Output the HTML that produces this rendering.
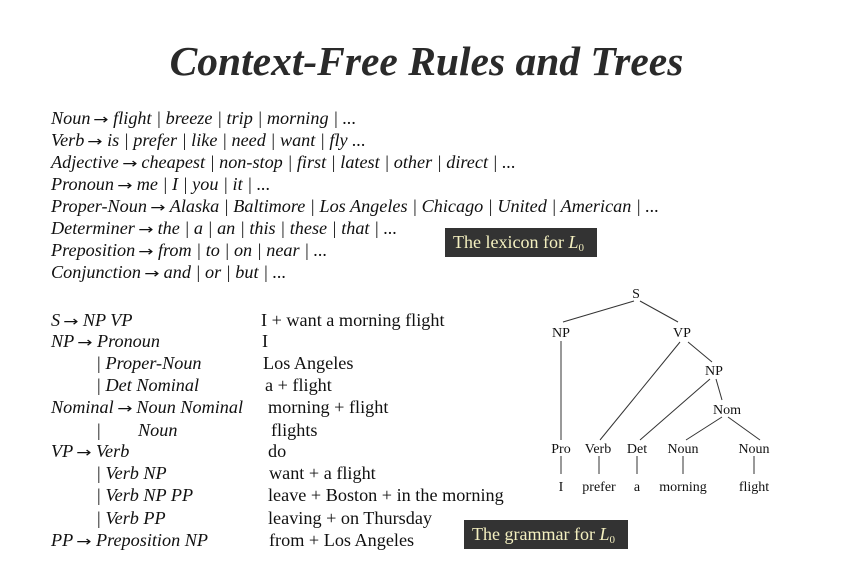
<!DOCTYPE html>
<html><head><meta charset="utf-8"><style>
body{margin:0;width:853px;height:578px;background:#fff;position:relative;overflow:hidden;font-family:"Liberation Serif",serif;color:#111}
.t{position:absolute;white-space:nowrap;font-size:18.2px;line-height:22px}
.i{font-style:italic}
.a{font-style:normal;font-family:"DejaVu Sans",sans-serif;font-size:14px;display:inline-block;transform:scaleX(1.3);margin:0 6px 0 5px}
.title{position:absolute;left:0;width:853px;top:37px;text-align:center;font-size:41.5px;font-weight:bold;font-style:italic;color:#2a2a2a}
.box{position:absolute;background:#333;color:#f4f0c0;font-size:18px;height:29px;line-height:29px;padding:0 8px;white-space:nowrap;overflow:hidden}
.box sub{font-size:11px;position:relative;top:3px;vertical-align:baseline}
svg{position:absolute;left:0;top:0}
svg text{font-family:"Liberation Serif",serif;font-size:14px;fill:#111;text-anchor:middle}
</style></head><body>
<div class="title">Context-Free Rules and Trees</div>
<div class="t i" style="left:51px;top:107px">Noun<span class="a">→</span>flight | breeze | trip | morning | ...</div>
<div class="t i" style="left:51px;top:129px">Verb<span class="a">→</span>is | prefer | like | need | want | fly ...</div>
<div class="t i" style="left:51px;top:151px">Adjective<span class="a">→</span>cheapest | non-stop | first | latest | other | direct | ...</div>
<div class="t i" style="left:51px;top:173px">Pronoun<span class="a">→</span>me | I | you | it | ...</div>
<div class="t i" style="left:51px;top:195px">Proper-Noun<span class="a">→</span>Alaska | Baltimore | Los Angeles | Chicago | United | American | ...</div>
<div class="t i" style="left:51px;top:217px">Determiner<span class="a">→</span>the | a | an | this | these | that | ...</div>
<div class="t i" style="left:51px;top:239px">Preposition<span class="a">→</span>from | to | on | near | ...</div>
<div class="t i" style="left:51px;top:261px">Conjunction<span class="a">→</span>and | or | but | ...</div>
<div class="box" style="left:445px;top:228px;width:136px">The lexicon for <i>L</i><sub>0</sub></div>

<div class="t i" style="left:51px;top:309px">S<span class="a">→</span>NP VP</div>
<div class="t i" style="left:51px;top:330px">NP<span class="a">→</span>Pronoun</div>
<div class="t i" style="left:96px;top:352px">| Proper-Noun</div>
<div class="t i" style="left:96px;top:374px">| Det Nominal</div>
<div class="t i" style="left:51px;top:396px">Nominal<span class="a">→</span>Noun Nominal</div>
<div class="t i" style="left:96px;top:419px">|</div>
<div class="t i" style="left:138px;top:419px">Noun</div>
<div class="t i" style="left:51px;top:440px">VP<span class="a">→</span>Verb</div>
<div class="t i" style="left:96px;top:462px">| Verb NP</div>
<div class="t i" style="left:96px;top:484px">| Verb NP PP</div>
<div class="t i" style="left:96px;top:507px">| Verb PP</div>
<div class="t i" style="left:51px;top:529px">PP<span class="a">→</span>Preposition NP</div>

<div class="t" style="left:261px;top:309px">I + want a morning flight</div>
<div class="t" style="left:262px;top:330px">I</div>
<div class="t" style="left:263px;top:352px">Los Angeles</div>
<div class="t" style="left:265px;top:374px">a + flight</div>
<div class="t" style="left:268px;top:396px">morning + flight</div>
<div class="t" style="left:271px;top:419px">flights</div>
<div class="t" style="left:268px;top:440px">do</div>
<div class="t" style="left:269px;top:462px">want + a flight</div>
<div class="t" style="left:268px;top:484px">leave + Boston + in the morning</div>
<div class="t" style="left:268px;top:507px">leaving + on Thursday</div>
<div class="t" style="left:269px;top:529px">from + Los Angeles</div>
<div class="box" style="left:464px;top:520px;width:148px">The grammar for <i>L</i><sub>0</sub></div>

<svg width="853" height="578" stroke="#333" stroke-width="1" fill="none">
<line x1="634" y1="301" x2="563" y2="322"/>
<line x1="640" y1="301" x2="678" y2="322"/>
<line x1="561" y1="341" x2="561" y2="440"/>
<line x1="680" y1="342" x2="600" y2="440"/>
<line x1="688" y1="342" x2="712" y2="362"/>
<line x1="710" y1="379" x2="640" y2="440"/>
<line x1="716" y1="379" x2="722" y2="400"/>
<line x1="722" y1="417" x2="686" y2="440"/>
<line x1="728" y1="417" x2="760" y2="440"/>
<line x1="561" y1="456" x2="561" y2="474"/>
<line x1="599" y1="456" x2="599" y2="474"/>
<line x1="637" y1="456" x2="637" y2="474"/>
<line x1="683" y1="456" x2="683" y2="474"/>
<line x1="754" y1="456" x2="754" y2="474"/>
<g stroke="none">
<text x="636" y="298">S</text>
<text x="561" y="337">NP</text>
<text x="682" y="337">VP</text>
<text x="714" y="375">NP</text>
<text x="727" y="414">Nom</text>
<text x="561" y="453">Pro</text>
<text x="598" y="453">Verb</text>
<text x="637" y="453">Det</text>
<text x="683" y="453">Noun</text>
<text x="754" y="453">Noun</text>
<text x="561" y="491">I</text>
<text x="599" y="491">prefer</text>
<text x="637" y="491">a</text>
<text x="683" y="491">morning</text>
<text x="754" y="491">flight</text>
</g>
</svg>
</body></html>
